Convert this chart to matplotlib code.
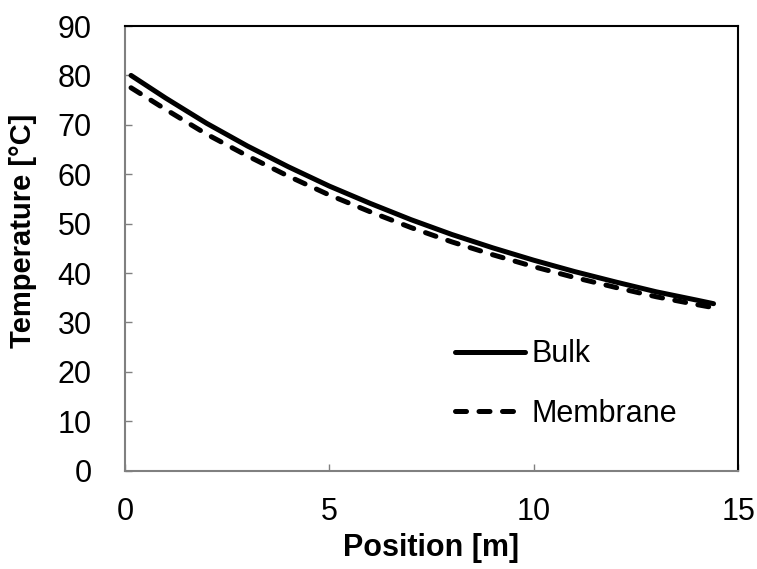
import matplotlib.pyplot as plt

plt.rcParams['font.family'] = ['Liberation Sans', 'DejaVu Sans']

# values
position = [0.15, 1, 2, 3, 4, 5, 6, 7, 8, 9, 10, 11, 12, 13, 14, 14.4]
bulk = [80.0, 75.4, 70.3, 65.7, 61.5, 57.6, 54.1, 50.8, 47.8, 45.1, 42.6,
        40.3, 38.2, 36.2, 34.5, 33.8]
membrane = [77.5, 73.1, 68.1, 63.7, 59.6, 55.8, 52.4, 49.2, 46.3, 43.7, 41.3,
            39.1, 37.1, 35.2, 33.6, 33.0]
xticks = [0, 5, 10, 15]
yticks = list(range(0, 91, 10))

fig = plt.figure(figsize=(7.57, 5.69), dpi=100)
ax = fig.add_axes([0.165, 0.1728, 0.81, 0.7815])

ax.plot(position, bulk, color='black', lw=3.6, solid_capstyle='round', label='Bulk')
ax.plot(position, membrane, color='black', lw=3.6, linestyle=(0, (2.2, 2.5)),
        dash_capstyle='round', label='Membrane')

ax.set_xlim(0, 15)
ax.set_ylim(0, 90)
ax.set_xticks(xticks)
ax.set_yticks(yticks)
ax.tick_params(axis='both', direction='in', length=5, width=1, color='#808080',
               labelsize=22)
ax.tick_params(axis='y', pad=24)
ax.tick_params(axis='x', pad=19)

for side in ['left', 'bottom']:
    ax.spines[side].set_color('#808080')
    ax.spines[side].set_linewidth(1.5)
for side in ['top', 'right']:
    ax.spines[side].set_color('black')
    ax.spines[side].set_linewidth(1.5)

ax.set_xlabel('Position [m]', fontsize=22, fontweight='bold', labelpad=4)
ax.set_ylabel('Temperature [°C]', fontsize=21, fontweight='bold')
ax.yaxis.set_label_coords(-0.144, 0.54)

ax.legend(loc='center left', bbox_to_anchor=(0.538, 0.195), frameon=False,
          fontsize=22, handlelength=2.29, handletextpad=0.23, labelspacing=0.96,
          borderpad=0, borderaxespad=0)

fig.savefig('out.png', dpi=100)
